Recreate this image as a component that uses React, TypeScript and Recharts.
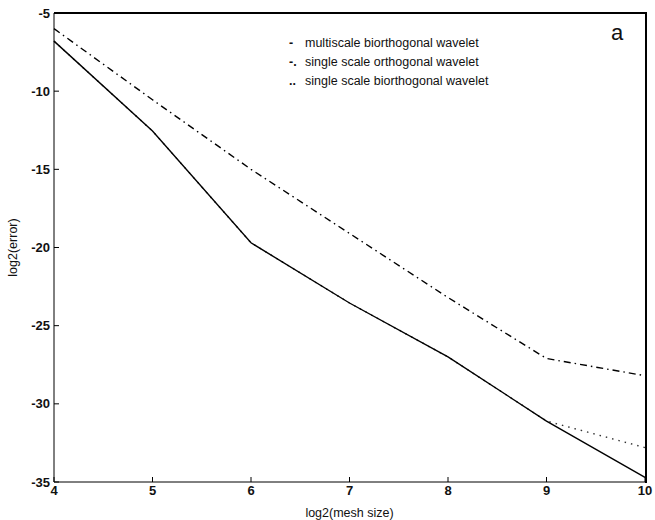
import { LineChart, Line, XAxis, YAxis, Label } from 'recharts';

// log2(mesh size)
const meshSizes = [4, 5, 6, 7, 8, 9, 10];
// log2(error) per method
const multiscaleBiorth = [-6.8, -12.55, -19.7, -23.55, -27.0, -31.1, -34.7];
const singleOrth = [-6.0, -10.55, -15.0, -19.1, -23.2, -27.1, -28.2];
const singleBiorth = [-6.8, -12.55, -19.7, -23.55, -27.0, -31.1, -32.8];

const xTicks = [4, 5, 6, 7, 8, 9, 10];
const yTicks = [-35, -30, -25, -20, -15, -10, -5];

const legendItems = [
  { mark: '-', label: 'multiscale biorthogonal wavelet' },
  { mark: '-.', label: 'single scale orthogonal wavelet' },
  { mark: '..', label: 'single scale biorthogonal wavelet' },
];

const data = meshSizes.map((x, i) => ({
  x,
  multi: multiscaleBiorth[i],
  orth: singleOrth[i],
  biorth: singleBiorth[i],
}));

const FONT = '"Liberation Sans", Arial, Helvetica, sans-serif';
const tickStyle = { fill: '#111', fontSize: 13, fontFamily: FONT, fontWeight: 600 } as const;

function LegendBox() {
  return (
    <div
      style={{
        position: 'absolute',
        left: 289,
        top: 34,
        fontFamily: FONT,
        fontSize: 12.5,
        color: '#111',
        lineHeight: '19px',
      }}
    >
      {legendItems.map((it) => (
        <div key={it.label} style={{ display: 'flex' }}>
          <span style={{ width: 16, fontWeight: 700 }}>{it.mark}</span>
          <span>{it.label}</span>
        </div>
      ))}
    </div>
  );
}

export default function App() {
  return (
    <div style={{ position: 'relative', width: 655, height: 520, background: '#fff' }}>
      <style>{'body{margin:0}'}</style>
      <LineChart width={655} height={520} data={data} margin={{ top: 13, right: 10, bottom: 0, left: 0 }}>
        <XAxis
          dataKey="x"
          type="number"
          domain={[4, 10]}
          ticks={xTicks}
          height={38}
          tick={tickStyle}
          tickSize={-5}
          tickMargin={9}
          stroke="#000"
          tickLine={{ stroke: '#000' }}
        >
          <Label
            value="log2(mesh size)"
            position="insideBottom"
            offset={3}
            style={{ fill: '#111', fontSize: 12.5, fontFamily: FONT }}
          />
        </XAxis>
        <YAxis
          type="number"
          domain={[-35, -5]}
          ticks={yTicks}
          width={54}
          tick={tickStyle}
          tickSize={-5}
          tickMargin={9}
          stroke="#000"
          tickLine={{ stroke: '#000' }}
          label={({ viewBox }: any) => (
            <text
              x={13}
              y={viewBox.y + viewBox.height / 2}
              transform={`rotate(-90 13 ${viewBox.y + viewBox.height / 2})`}
              textAnchor="middle"
              dominantBaseline="central"
              style={{ fill: '#111', fontSize: 12.5, fontFamily: FONT }}
            >
              log2(error)
            </text>
          )}
        />
        <Line
          dataKey="biorth"
          stroke="#333"
          strokeWidth={1.4}
          strokeDasharray="1.5 5"
          dot={false}
          isAnimationActive={false}
        />
        <Line
          dataKey="orth"
          stroke="#000"
          strokeWidth={1.4}
          strokeDasharray="7 4 1.5 4"
          dot={false}
          isAnimationActive={false}
        />
        <Line
          dataKey="multi"
          stroke="#000"
          strokeWidth={1.4}
          dot={false}
          isAnimationActive={false}
        />
      </LineChart>
      {/* top and right edges of the plot box */}
      <div
        style={{
          position: 'absolute',
          left: 54,
          top: 12,
          width: 593,
          height: 471,
          boxSizing: 'border-box',
          borderTop: '2px solid #000',
          borderRight: '2px solid #000',
          zIndex: 2,
          pointerEvents: 'none',
        }}
      />
      <LegendBox />
      <div
        style={{
          position: 'absolute',
          left: 611,
          top: 20,
          fontFamily: FONT,
          fontSize: 22,
          color: '#111',
        }}
      >
        a
      </div>
    </div>
  );
}
